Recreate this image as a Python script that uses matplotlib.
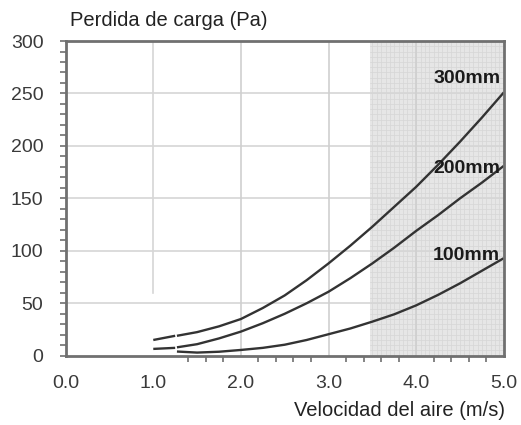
import numpy as np
import matplotlib
matplotlib.use("Agg")
import matplotlib.pyplot as plt

plt.rcParams['font.family'] = ['Liberation Sans', 'DejaVu Sans']

# air velocity (m/s) and pressure loss (Pa) per duct diameter
velocity = [1.27, 1.5, 1.75, 2.0, 2.25, 2.5, 2.75, 3.0, 3.25, 3.5, 3.75, 4.0, 4.25, 4.5, 4.75, 5.0]
p300 = [19, 22.5, 28, 35, 45.5, 57.5, 72, 88, 105, 123, 142, 161, 182, 204, 227, 251]
p200 = [8, 11, 16.5, 23, 31, 40, 50, 61, 74, 88, 103, 119, 134, 150, 165, 181]
p100 = [4, 3, 3.8, 5.5, 7.5, 10.5, 15, 20.5, 26, 32.5, 39.5, 48, 58, 69, 81, 93]

# short leading pieces at low velocity
velocity_stub = [1.0, 1.25]
p300_stub = [15, 19]
p200_stub = [6.5, 7.5]

series_labels = ['300mm', '200mm', '100mm']
label_y = [264, 178, 96]

xticks = [0.0, 1.0, 2.0, 3.0, 4.0, 5.0]
yticks = [0, 50, 100, 150, 200, 250, 300]

fig = plt.figure(figsize=(5.21, 4.25), dpi=100)
ax = fig.add_axes([0.126, 0.163, 0.841, 0.7405])
ax.set_xlim(0, 5)
ax.set_ylim(0, 300)

# shaded zone with a fine grid inside
ax.axvspan(3.47, 5.0, color='#e6e6e6', zorder=0, lw=0)
for xv in np.arange(3.5, 5.0, 0.05):
    ax.axvline(xv, color='#d6d6d6', lw=0.5, zorder=0.5)
for yv in np.arange(5, 300, 5):
    ax.plot([3.47, 5.0], [yv, yv], color='#d6d6d6', lw=0.5, zorder=0.5)

# main grid
for yv in yticks[1:-1]:
    ax.axhline(yv, color='#d6d6d6', lw=1.2, zorder=1)
ax.axvline(1.0, ymin=60 / 300, ymax=1, color='#d6d6d6', lw=1.2, zorder=1)
for xv in [2.0, 3.0, 4.0]:
    ax.axvline(xv, color='#cfcfcf', lw=1.2, zorder=1)

line_kw = dict(color='#333333', lw=1.7, zorder=3, solid_capstyle='butt')
ax.plot(velocity, p300, **line_kw)
ax.plot(velocity, p200, **line_kw)
ax.plot(velocity, p100, **line_kw)
ax.plot(velocity_stub, p300_stub, **line_kw)
ax.plot(velocity_stub, p200_stub, **line_kw)

for lab, yv in zip(series_labels, label_y):
    ax.text(4.96, yv, lab, ha='right', va='center', fontsize=14,
            fontweight='bold', color='#1a1a1a', zorder=4)

for s in ax.spines.values():
    s.set_color('#707070')
    s.set_linewidth(2)
    s.set_zorder(5)

ax.set_xticks(xticks)
ax.set_xticklabels(['%.1f' % v for v in xticks])
ax.set_xticks(np.arange(1.4, 5.01, 0.2), minor=True)
ax.set_yticks(yticks)
ax.set_yticks(np.arange(0, 301, 10), minor=True)
ax.tick_params(axis='both', which='both', direction='out', color='#707070',
               labelcolor='#3a3a3a', labelsize=14, width=1.2)
ax.tick_params(axis='y', which='major', length=4, pad=12)
ax.tick_params(axis='y', which='minor', length=4)
ax.tick_params(axis='x', which='major', length=0, pad=14)
ax.tick_params(axis='x', which='minor', length=4)

fig.text(70 / 521, 1 - 21 / 425, 'Perdida de carga (Pa)', ha='left', va='center',
         fontsize=14.5, color='#222222')
fig.text(505 / 521, 1 - 410 / 425, 'Velocidad del aire (m/s)', ha='right', va='center',
         fontsize=14.5, color='#222222')

fig.savefig('out.png', dpi=100)
